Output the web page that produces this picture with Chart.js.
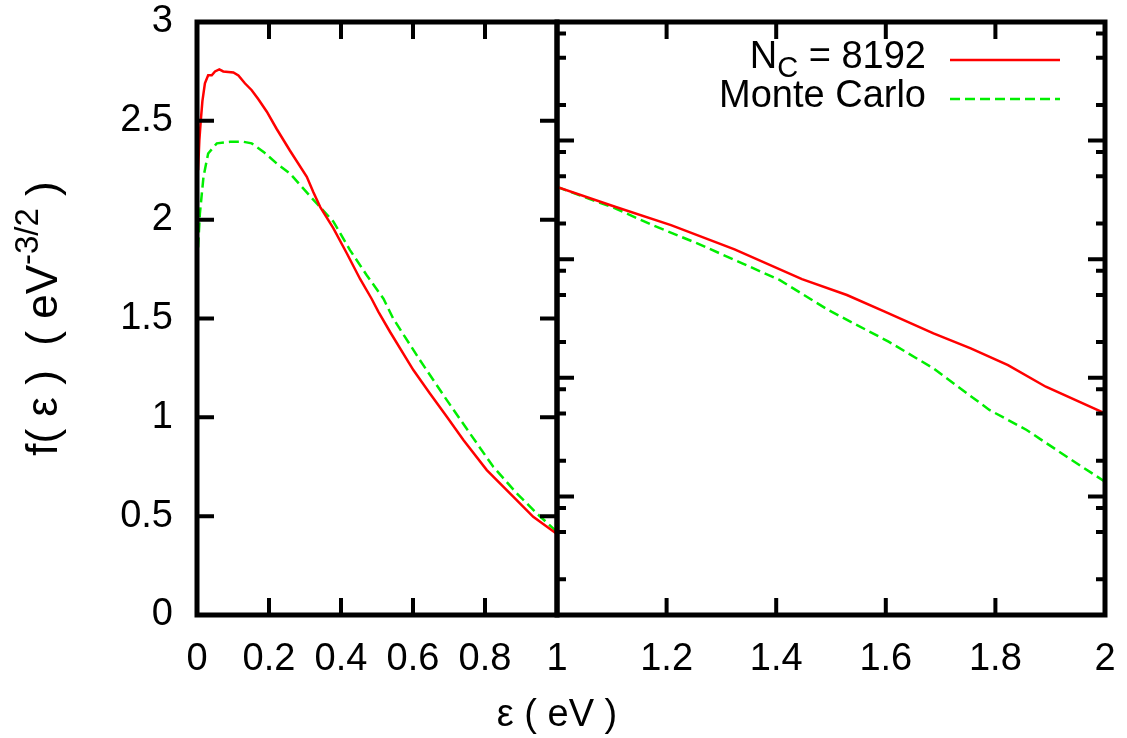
<!DOCTYPE html>
<html>
<head>
<meta charset="utf-8">
<script src="https://cdn.jsdelivr.net/npm/chart.js@4.4.1/dist/chart.umd.min.js"></script>
<style>
  body { margin: 0; background: #fff; }
  #wrap { position: relative; width: 1127px; height: 738px; }
  canvas { position: absolute; top: 0; left: 0; }
</style>
</head>
<body>
<div id="wrap">
  <canvas id="left" width="1127" height="738"></canvas>
  <canvas id="right" width="1127" height="738"></canvas>
</div>
<script>
// values
const redLeftX = [0.003, 0.0065, 0.010, 0.015, 0.022, 0.031, 0.041, 0.050, 0.062, 0.073, 0.101, 0.115, 0.133, 0.152, 0.170, 0.194, 0.221, 0.258, 0.305, 0.323, 0.342, 0.379, 0.416, 0.453, 0.485, 0.504, 0.536, 0.601, 0.647, 0.694, 0.740, 0.805, 0.879, 0.934, 1.0];
const redLeftY = [2.25, 2.40, 2.49, 2.60, 2.69, 2.73, 2.73, 2.75, 2.76, 2.75, 2.745, 2.73, 2.69, 2.655, 2.61, 2.546, 2.46, 2.35, 2.217, 2.14, 2.065, 1.956, 1.83, 1.70, 1.60, 1.534, 1.433, 1.239, 1.121, 1.003, 0.885, 0.733, 0.598, 0.497, 0.41];

const greenLeftX = [0.003, 0.008, 0.018, 0.031, 0.055, 0.092, 0.129, 0.152, 0.185, 0.221, 0.258, 0.295, 0.332, 0.379, 0.425, 0.471, 0.518, 0.545, 0.619, 0.694, 0.758, 0.823, 0.888, 0.944, 1.0];
const greenLeftY = [1.86, 2.03, 2.217, 2.335, 2.386, 2.394, 2.394, 2.386, 2.343, 2.285, 2.234, 2.158, 2.083, 1.99, 1.846, 1.72, 1.60, 1.50, 1.29, 1.087, 0.919, 0.75, 0.616, 0.514, 0.42];

const redRightX = [1.0, 1.106, 1.208, 1.324, 1.447, 1.529, 1.598, 1.687, 1.755, 1.823, 1.892, 2.0];
const redRightY = [0.407, 0.277, 0.194, 0.121, 0.0680, 0.0499, 0.0361, 0.0237, 0.0177, 0.0128, 0.00841, 0.00501];

const greenRightX = [1.0, 1.106, 1.174, 1.256, 1.338, 1.406, 1.495, 1.605, 1.687, 1.789, 1.857, 1.939, 2.0];
const greenRightY = [0.407, 0.2685, 0.194, 0.136, 0.0923, 0.0668, 0.0373, 0.0202, 0.0120, 0.00536, 0.00363, 0.00203, 0.00133];

const logDecades = [1e-4, 1e-3, 1e-2, 1e-1, 1, 10];
const logMinorSteps = [2, 5, 8];

const legendNames = ['N_C = 8192', 'Monte Carlo'];

const RED = '#ff0000';
const GREEN = '#00ee00';
const FONT = "'Liberation Sans', Arial, sans-serif";
const FS = 38;

Chart.defaults.font.family = FONT;
Chart.defaults.font.size = FS;
Chart.defaults.color = '#000';

function pairs(xs, ys) {
  return xs.map((x, i) => ({ x: x, y: ys[i] }));
}

function fmt(v) {
  return String(Math.round(v * 10) / 10);
}

// no extra room for overhanging tick labels, the panels must meet exactly
function noPad(s) {
  s.paddingLeft = 0; s.paddingRight = 0; s.paddingTop = 0; s.paddingBottom = 0;
}

// rich text: segments {t, sub, sup}
function drawRich(ctx, segs, x, y, align, size) {
  const big = size || FS;
  const small = Math.round(big * 0.75);
  let w = 0;
  segs.forEach(s => {
    ctx.font = (s.sub || s.sup ? small : big) + 'px ' + FONT;
    s.w = ctx.measureText(s.t).width;
    w += s.w;
  });
  let cx = align === 'right' ? x - w : align === 'center' ? x - w / 2 : x;
  segs.forEach(s => {
    ctx.font = (s.sub || s.sup ? small : big) + 'px ' + FONT;
    const dy = s.sub ? big * 0.29 : s.sup ? -big * 0.36 : 0;
    ctx.fillText(s.t, cx, y + dy);
    cx += s.w;
  });
}

const frameTicks = {
  id: 'frameTicks',
  afterDraw(chart) {
    const { ctx, chartArea: a } = chart;
    const xs = chart.scales.x, ys = chart.scales.y;
    ctx.save();
    ctx.strokeStyle = '#000';
    ctx.lineWidth = 4;
    ctx.beginPath();
    xs.ticks.forEach(t => {
      const px = xs.getPixelForValue(t.value);
      if (px < a.left + 3 || px > a.right - 3) return;
      ctx.moveTo(px, a.bottom); ctx.lineTo(px, a.bottom - 17);
      ctx.moveTo(px, a.top); ctx.lineTo(px, a.top + 17);
    });
    ys.ticks.forEach(t => {
      const py = ys.getPixelForValue(t.value);
      if (py < a.top + 3 || py > a.bottom - 3) return;
      const len = t.minor ? 9 : 17;
      ctx.moveTo(a.left, py); ctx.lineTo(a.left + len, py);
      ctx.moveTo(a.right, py); ctx.lineTo(a.right - len, py);
    });
    ctx.stroke();
    ctx.lineWidth = 5;
    ctx.strokeRect(a.left, a.top, a.right - a.left, a.bottom - a.top);
    ctx.restore();
  }
};

const axisTitles = {
  id: 'axisTitles',
  afterDraw(chart) {
    const { ctx, chartArea: a } = chart;
    ctx.save();
    ctx.fillStyle = '#000';
    ctx.textBaseline = 'middle';
    drawRich(ctx, [{ t: 'ε ( eV )' }], a.right, 716, 'center');
    ctx.translate(45, (a.top + a.bottom) / 2);
    ctx.rotate(-Math.PI / 2);
    drawRich(ctx, [{ t: 'f( ε )  ( eV' }, { t: '-3/2', sup: true }, { t: ' )' }], 0, 0, 'center', 44);
    ctx.restore();
  }
};

const keyBox = {
  id: 'keyBox',
  afterDraw(chart) {
    const { ctx } = chart;
    const rows = [
      [{ t: 'N' }, { t: 'C', sub: true }, { t: ' = 8192' }],
      [{ t: legendNames[1] }]
    ];
    const rowY = [58, 97];
    ctx.save();
    ctx.fillStyle = '#000';
    ctx.textBaseline = 'middle';
    chart.data.datasets.forEach((ds, i) => {
      drawRich(ctx, rows[i], 926, rowY[i], 'right');
      ctx.strokeStyle = ds.borderColor;
      ctx.lineWidth = ds.borderWidth;
      ctx.setLineDash(ds.borderDash || []);
      ctx.beginPath();
      ctx.moveTo(950, rowY[i] + 2);
      ctx.lineTo(1060, rowY[i] + 2);
      ctx.stroke();
    });
    ctx.restore();
  }
};

function lineSet(label, data, color, dash) {
  return {
    label: label,
    data: data,
    borderColor: color,
    borderWidth: 2.5,
    borderDash: dash,
    pointRadius: 0,
    tension: 0,
    fill: false
  };
}

new Chart(document.getElementById('left'), {
  type: 'line',
  data: {
    datasets: [
      lineSet(legendNames[0], pairs(redLeftX, redLeftY), RED, []),
      lineSet(legendNames[1], pairs(greenLeftX, greenLeftY), GREEN, [10, 5])
    ]
  },
  options: {
    responsive: false,
    animation: false,
    layout: { padding: { top: 22, right: 570, left: 0, bottom: 0 } },
    plugins: { legend: { display: false }, tooltip: { enabled: false } },
    scales: {
      x: {
        type: 'linear', min: 0, max: 1,
        ticks: { stepSize: 0.2, autoSkip: false, maxRotation: 0, padding: 22, callback: fmt },
        grid: { display: false, drawTicks: false },
        border: { display: false },
        afterFit: s => { s.height = 123; noPad(s); }
      },
      y: {
        type: 'linear', min: 0, max: 3,
        ticks: { stepSize: 0.5, padding: 24, callback: fmt },
        grid: { display: false, drawTicks: false },
        border: { display: false },
        afterFit: s => { s.width = 197; noPad(s); }
      }
    }
  },
  plugins: [frameTicks, axisTitles]
});

new Chart(document.getElementById('right'), {
  type: 'line',
  data: {
    datasets: [
      lineSet(legendNames[0], pairs(redRightX, redRightY), RED, []),
      lineSet(legendNames[1], pairs(greenRightX, greenRightY), GREEN, [10, 5])
    ]
  },
  options: {
    responsive: false,
    animation: false,
    layout: { padding: { top: 22, right: 22, left: 557, bottom: 0 } },
    plugins: { legend: { display: false }, tooltip: { enabled: false } },
    scales: {
      x: {
        type: 'linear', min: 1, max: 2,
        ticks: { stepSize: 0.2, autoSkip: false, maxRotation: 0, padding: 22,
                 callback: v => (Math.abs(v - 1) < 1e-6 ? '' : fmt(v)) },
        grid: { display: false, drawTicks: false },
        border: { display: false },
        afterFit: s => { s.height = 123; noPad(s); }
      },
      y: {
        type: 'logarithmic', min: 1e-4, max: 10,
        ticks: { display: false },
        grid: { display: false, drawTicks: false },
        border: { display: false },
        afterBuildTicks: s => {
          const list = [];
          logDecades.forEach(d => {
            list.push({ value: d, minor: false });
            if (d < 10) logMinorSteps.forEach(m => list.push({ value: d * m, minor: true }));
          });
          s.ticks = list;
        },
        afterFit: s => { s.width = 0; noPad(s); }
      }
    }
  },
  plugins: [frameTicks, keyBox]
});
</script>
</body>
</html>
